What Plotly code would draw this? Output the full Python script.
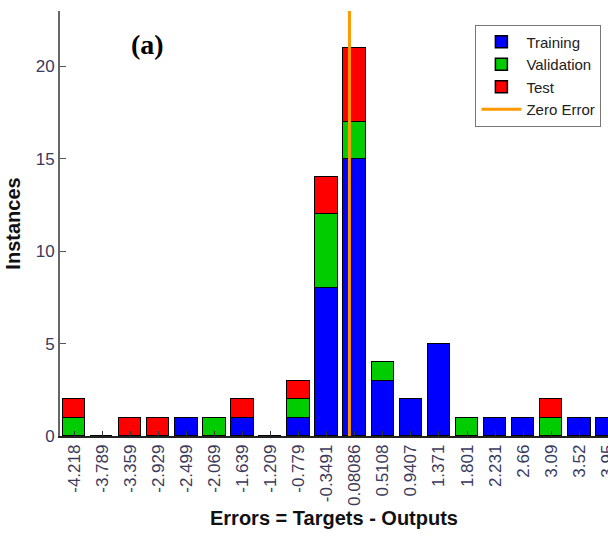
import plotly.graph_objects as go

bin_labels = ["-4.218", "-3.789", "-3.359", "-2.929", "-2.499", "-2.069", "-1.639",
              "-1.209", "-0.779", "-0.3491", "0.08086", "0.5108", "0.9407", "1.371",
              "1.801", "2.231", "2.66", "3.09", "3.52", "3.95"]
bin_centers = [float(v) for v in bin_labels]
training   = [0, 0, 0, 0, 1, 0, 1, 0, 1, 8, 15, 3, 2, 5, 0, 1, 1, 0, 1, 1]
validation = [1, 0, 0, 0, 0, 1, 0, 0, 1, 4, 2, 1, 0, 0, 1, 0, 0, 1, 0, 0]
test       = [1, 0, 1, 1, 0, 0, 1, 0, 1, 2, 4, 0, 0, 0, 0, 0, 0, 1, 0, 0]
zero_error = 0.0
y_max = 23

bin_w = (bin_centers[-1] - bin_centers[0]) / (len(bin_centers) - 1)
bar_w = bin_w * 0.8

fig = go.Figure()
for name, vals, col in [("Training", training, "#0000FF"),
                        ("Validation", validation, "#00CC00"),
                        ("Test", test, "#FF0000")]:
    fig.add_trace(go.Bar(x=bin_centers, y=vals, name=name, width=bar_w,
                         marker=dict(color=col, line=dict(color="black", width=1.5))))
fig.add_trace(go.Scatter(x=[zero_error, zero_error], y=[0, y_max], mode="lines",
                         name="Zero Error", line=dict(color="#FF9900", width=3)))

fig.update_layout(
    width=608, height=544, barmode="stack",
    margin=dict(l=60, r=0, t=11, b=108),
    paper_bgcolor="white", plot_bgcolor="white",
    font=dict(family="Arial, Liberation Sans, sans-serif", color="#262626"),
    bargap=0,
    legend=dict(x=0.758, y=0.968, xanchor="left", yanchor="top",
                bgcolor="white", bordercolor="#777777", borderwidth=1,
                font=dict(size=15, color="#222222"), traceorder="normal",
                itemwidth=40, tracegroupgap=0),
    xaxis=dict(range=[bin_centers[0] - bin_w / 2, bin_centers[-1] + 0.01],
               tickmode="array", tickvals=bin_centers, ticktext=bin_labels,
               tickangle=-90, ticks="inside", ticklen=5, tickcolor="#333333",
               tickfont=dict(size=17, color="#3a3a5c"),
               ticklabeloverflow="allow", automargin=False,
               showline=True, linecolor="#222222", linewidth=1.5,
               showgrid=False, zeroline=False,
               title=dict(text="<b>Errors = Targets - Outputs</b>",
                          font=dict(size=20, color="#111111"), standoff=6)),
    yaxis=dict(range=[0, y_max], tickvals=[0, 5, 10, 15, 20],
               ticks="inside", ticklen=6, tickcolor="#555555",
               tickfont=dict(size=17, color="#3a3a5c"), automargin=False,
               showline=True, linecolor="#666666", linewidth=2,
               showgrid=False, zeroline=False,
               title=dict(text="<b>Instances</b>",
                          font=dict(size=20, color="#111111"), standoff=10)),
    annotations=[dict(text="<b>(a)</b>", x=0.16, y=0.92, xref="paper", yref="paper",
                      xanchor="center", yanchor="middle", showarrow=False,
                      font=dict(family="Liberation Serif, Times New Roman, serif",
                                size=28, color="black"))],
)

fig.write_html("out.html")
